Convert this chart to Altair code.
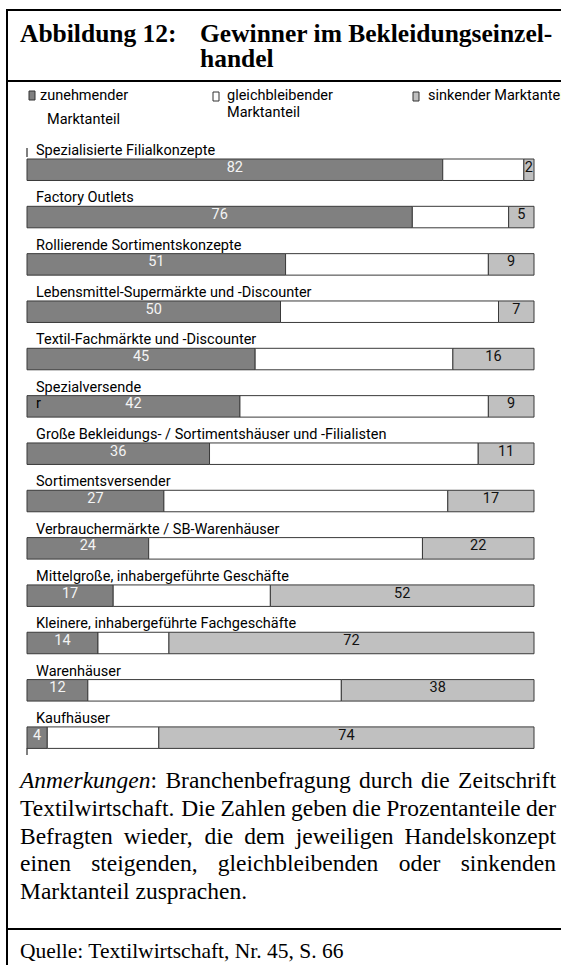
import altair as alt
import pandas as pd

# ---------------------------------------------------------------- data
categories = [
    "Spezialisierte Filialkonzepte",
    "Factory Outlets",
    "Rollierende Sortimentskonzepte",
    "Lebensmittel-Supermärkte und -Discounter",
    "Textil-Fachmärkte und -Discounter",
    "Spezialversende",
    "Große Bekleidungs- / Sortimentshäuser und -Filialisten",
    "Sortimentsversender",
    "Verbrauchermärkte / SB-Warenhäuser",
    "Mittelgroße, inhabergeführte Geschäfte",
    "Kleinere, inhabergeführte Fachgeschäfte",
    "Warenhäuser",
    "Kaufhäuser",
]
zunehmend = [82, 76, 51, 50, 45, 42, 36, 27, 24, 17, 14, 12, 4]
gleichbleibend = [16, 19, 40, 43, 39, 49, 53, 56, 54, 31, 14, 50, 22]
sinkend = [2, 5, 9, 7, 16, 9, 11, 17, 22, 52, 72, 38, 74]

segments = ["zunehmender Marktanteil", "gleichbleibender Marktanteil", "sinkender Marktanteil"]
seg_colors = ["#808080", "#ffffff", "#c0c0c0"]

title_left = "Abbildung 12:"
title_lines = ["Gewinner im Bekleidungseinzel-", "handel"]
note_lines = [
    "Anmerkungen: Branchenbefragung durch die Zeitschrift",
    "Textilwirtschaft. Die Zahlen geben die Prozentanteile der",
    "Befragten wieder, die dem jeweiligen Handelskonzept",
    "einen steigenden, gleichbleibenden oder sinkenden",
    "Marktanteil zusprachen.",
]
source = "Quelle: Textilwirtschaft, Nr. 45, S. 66"

SANS = "Roboto"
SANS_SIZE = 14.5
SERIF = "Liberation Serif"
W, H = 561, 965

# ---------------------------------------------------------------- tables
rows = []
for i, cat in enumerate(categories):
    for k, vals in enumerate([zunehmend, gleichbleibend, sinkend]):
        rows.append({"Konzept": cat, "Anteil": segments[k], "ord": k, "Wert": vals[i]})
bars_df = pd.DataFrame(rows)

xs = alt.Scale(domain=[0, 100], range=[27, 534], nice=False, zero=True)
ys = alt.Scale(type="band", domain=categories, range=[159, 748.4],
               paddingInner=0.546, paddingOuter=0)

one = pd.DataFrame({"k": [0]})


def rule(x1, x2, y1, y2, width=2, color="black"):
    return alt.Chart(one).mark_rule(strokeWidth=width, color=color).encode(
        x=alt.value(x1), x2=alt.value(x2), y=alt.value(y1), y2=alt.value(y2)
    )


def label(txt, x, y, size, font=SANS, weight="normal", style="normal", color="black"):
    return alt.Chart(one).mark_text(
        text=txt, align="left", baseline="alphabetic", font=font, fontSize=size,
        fontWeight=weight, fontStyle=style, color=color,
    ).encode(x=alt.value(x), y=alt.value(y))


# ---------------------------------------------------------------- frame
frame = [
    rule(7, W, 10, 10),
    rule(7, 7, 9, H),
    rule(7, W, 81, 81),
    rule(7, W, 929, 929),
    rule(27, 27, 148, 157, width=1),
    rule(27, 27, 748, 755, width=1),
]

# ---------------------------------------------------------------- title
title = [
    label(title_left, 20, 42, 25.5, font=SERIF, weight="bold"),
    label(title_lines[0], 200, 42, 25.5, font=SERIF, weight="bold"),
    label(title_lines[1], 200, 67, 25.5, font=SERIF, weight="bold"),
]

# ---------------------------------------------------------------- legend
def swatch(x, y, color):
    return alt.Chart(one).mark_rect(fill=color, stroke="#333", strokeWidth=1).encode(
        x=alt.value(x), x2=alt.value(x + 6), y=alt.value(y), y2=alt.value(y + 9)
    )


legend = [
    swatch(29, 91, seg_colors[0]),
    label("zunehmender", 40, 100, SANS_SIZE),
    label("Marktanteil", 47, 124, SANS_SIZE),
    swatch(213, 92, seg_colors[1]),
    label("gleichbleibender", 227, 100, SANS_SIZE),
    label("Marktanteil", 227, 117, SANS_SIZE),
    swatch(413, 92, seg_colors[2]),
    label("sinkender Marktanteil", 428, 100, SANS_SIZE),
]

# ---------------------------------------------------------------- bars
bars = alt.Chart(bars_df).mark_bar(stroke="#3a3a3a", strokeWidth=1).encode(
    x=alt.X("Wert:Q", stack="zero", scale=xs, axis=None),
    y=alt.Y("Konzept:N", scale=ys, axis=None),
    color=alt.Color("Anteil:N", scale=alt.Scale(domain=segments, range=seg_colors), legend=None),
    order=alt.Order("ord:Q"),
)

values = (
    alt.Chart(bars_df)
    .transform_stack(stack="Wert", groupby=["Konzept"], as_=["v0", "v1"], sort=[alt.SortField("ord")])
    .transform_calculate(mid="(datum.v0 + datum.v1) / 2")
    .transform_filter("datum.ord != 1")
    .mark_text(font=SANS, fontSize=SANS_SIZE, baseline="middle", dy=-2)
    .encode(
        x=alt.X("mid:Q", scale=xs, axis=None),
        y=alt.Y("Konzept:N", scale=ys, axis=None, bandPosition=0.5),
        text="Wert:Q",
        color=alt.condition("datum.ord == 0", alt.value("#f4f4f4"), alt.value("#111111")),
    )
)

cat_labels = alt.Chart(pd.DataFrame({"Konzept": categories})).mark_text(
    align="left", baseline="alphabetic", dy=-4, font=SANS, fontSize=SANS_SIZE, color="black"
).encode(
    x=alt.value(36),
    y=alt.Y("Konzept:N", scale=ys, axis=None, bandPosition=0),
    text="Konzept:N",
)

stray = alt.Chart(pd.DataFrame({"Konzept": ["Spezialversende"], "t": ["r"]})).mark_text(
    align="left", baseline="middle", dy=-2, font=SANS, fontSize=SANS_SIZE, color="black"
).encode(x=alt.value(36), y=alt.Y("Konzept:N", scale=ys, axis=None, bandPosition=0.5), text="t:N")

# ---------------------------------------------------------------- notes (justified)
TIMES_R = {
    " ": 250, ",": 250, ".": 250, ":": 278, "-": 333,
    "A": 722, "B": 667, "D": 722, "H": 722, "M": 889, "N": 722, "P": 556, "Q": 722,
    "S": 556, "T": 611, "Z": 611,
    "a": 444, "b": 500, "c": 444, "d": 500, "e": 444, "f": 333, "g": 500, "h": 500,
    "i": 278, "j": 278, "k": 500, "l": 278, "m": 778, "n": 500, "o": 500, "p": 500,
    "r": 333, "s": 389, "t": 278, "u": 500, "v": 500, "w": 722, "x": 500, "z": 444,
}
TIMES_I = {"A": 611, "n": 500, "m": 722, "e": 444, "r": 389, "k": 444, "u": 500, "g": 500}


def tw(s, size, table=TIMES_R):
    return sum(table.get(ch, 500) for ch in s) * size / 1000.0


NOTE_SIZE = 23.5
LEFT, RIGHT = 20, 556
BASE0, LEAD = 788, 27.75

word_rows = []
italic_rows = []
for li, line in enumerate(note_lines):
    y = BASE0 + li * LEAD
    words = line.split(" ")
    widths = []
    for w in words:
        if w == "Anmerkungen:":
            widths.append(tw("Anmerkungen", NOTE_SIZE, TIMES_I) + tw(":", NOTE_SIZE))
        else:
            widths.append(tw(w, NOTE_SIZE))
    last = li == len(note_lines) - 1
    gap = tw(" ", NOTE_SIZE) if last else (RIGHT - LEFT - sum(widths)) / (len(words) - 1)
    x = LEFT
    for wi, w in enumerate(words):
        if not last and wi == len(words) - 1:
            x = RIGHT - widths[wi]
        if w == "Anmerkungen:":
            italic_rows.append({"w": "Anmerkungen", "px": x, "py": y})
            word_rows.append({"w": ":", "px": x + tw("Anmerkungen", NOTE_SIZE, TIMES_I), "py": y})
        else:
            word_rows.append({"w": w, "px": x, "py": y})
        x += widths[wi] + gap

notes = alt.Chart(pd.DataFrame(word_rows)).mark_text(
    align="left", baseline="alphabetic", font=SERIF, fontSize=NOTE_SIZE, color="black"
).encode(x=alt.X("px:Q", scale=None), y=alt.Y("py:Q", scale=None), text="w:N")

notes_it = alt.Chart(pd.DataFrame(italic_rows)).mark_text(
    align="left", baseline="alphabetic", font=SERIF, fontSize=NOTE_SIZE, fontStyle="italic",
    color="black",
).encode(x=alt.X("px:Q", scale=None), y=alt.Y("py:Q", scale=None), text="w:N")

src = label(source, 20, 958, 21.5, font=SERIF)

chart = (
    alt.layer(*frame, *title, *legend, bars, values, cat_labels, stray, notes, notes_it, src)
    .resolve_scale(x="independent", y="independent")
    .properties(width=W, height=H, autosize=alt.AutoSizeParams(type="none"), padding=0,
                background="white")
    .configure_view(stroke=None)
)

chart.save("out.html", embed_options={"renderer": "svg", "actions": False})
